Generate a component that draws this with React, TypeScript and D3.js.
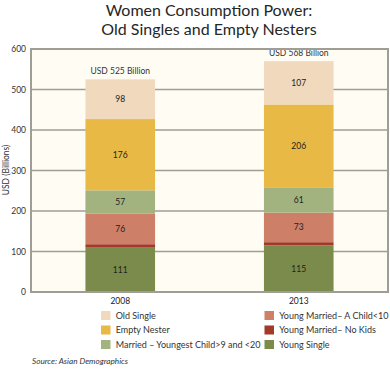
import React from "react";
import * as d3 from "d3";

const years = ["2008", "2013"];
const seriesNames = [
  "Young Single",
  "Young Married– No Kids",
  "Young Married– A Child<10",
  "Married– Youngest Child>9 and <20",
  "Empty Nester",
  "Old Single",
];
const youngSingle = [111, 115];
const youngMarriedNoKids = [7, 8];
const youngMarriedChild = [76, 73];
const marriedYoungest = [57, 61];
const emptyNester = [176, 206];
const oldSingle = [98, 107];
const totalLabels = ["USD 525 Billion", "USD 568 Billion"];
const yTicks = [0, 100, 200, 300, 400, 500, 600];
const colors = ["#7A8B4B", "#A2392B", "#CE7F67", "#A3B380", "#E8BA45", "#F0D9BC"];
const showLabel = [true, false, true, true, true, true];
const legendOrder = [
  { name: "Old Single", idx: 5 },
  { name: "Young Married– A Child<10", idx: 2 },
  { name: "Empty Nester", idx: 4 },
  { name: "Young Married– No Kids", idx: 1 },
  { name: "Married – Youngest Child>9 and <20", idx: 3 },
  { name: "Young Single", idx: 0 },
];

const W = 390, H = 370;
const left = 31, right = 388, top = 49, bottom = 292;
const font = "Lato, 'Open Sans', sans-serif";

export default function App() {
  const seriesData = [youngSingle, youngMarriedNoKids, youngMarriedChild, marriedYoungest, emptyNester, oldSingle];
  const rows = years.map((y, i) => {
    const r: any = { year: y };
    seriesNames.forEach((n, k) => (r[n] = seriesData[k][i]));
    return r;
  });
  const stacked = d3.stack().keys(seriesNames)(rows);
  const x = d3.scaleBand().domain(years).range([left, right]).paddingInner(0.61).paddingOuter(0.305);
  const y = d3.scaleLinear().domain([0, 600]).range([bottom, top]);

  return (
    <svg width={W} height={H} style={{ position: "absolute", left: 0, top: 0, background: "#fff" }} fontFamily={font}>
      <text x={209} y={16} textAnchor="middle" fontSize={16} fill="#262626">Women Consumption Power:</text>
      <text x={209} y={34.5} textAnchor="middle" fontSize={16} fill="#262626">Old Singles and Empty Nesters</text>
      <rect x={left} y={top} width={right - left} height={bottom - top} fill="#FFFDF3" />
      {yTicks.map((t) => (
        <g key={t}>
          <line x1={left} x2={right} y1={y(t)} y2={y(t)} stroke="#A09C96" strokeWidth={1.5} />
          <text x={26} y={y(t) + 3} textAnchor="end" fontSize={8.5} fill="#333">{t}</text>
        </g>
      ))}
      {stacked.map((s, k) => (
        <g key={k}>
          {s.map((d, i) => (
            <g key={i}>
              <rect x={x(years[i])} y={y(d[1])} width={x.bandwidth()} height={y(d[0]) - y(d[1])} fill={colors[k]} />
              {showLabel[k] && (
                <text x={(x(years[i]) as number) + x.bandwidth() / 2} y={(y(d[0]) + y(d[1])) / 2 + 3} textAnchor="middle" fontSize={8.5} fill="#222">
                  {seriesData[k][i]}
                </text>
              )}
            </g>
          ))}
        </g>
      ))}
      {years.map((yr, i) => {
        const tot = d3.sum(seriesData, (s) => s[i]);
        return (
          <text key={yr} x={(x(yr) as number) + x.bandwidth() / 2} y={y(tot) - 5} textAnchor="middle" fontSize={8.5} fill="#333">
            {totalLabels[i]}
          </text>
        );
      })}
      <rect x={left} y={top} width={right - left} height={bottom - top} fill="none" stroke="#A09C96" strokeWidth={2} />
      {years.map((yr) => (
        <text key={yr} x={(x(yr) as number) + x.bandwidth() / 2} y={304} textAnchor="middle" fontSize={8.5} fill="#222">{yr}</text>
      ))}
      <text transform={`translate(9,170) rotate(-90)`} textAnchor="middle" fontSize={8.5} fill="#333">USD (Billions)</text>
      {legendOrder.map((l, j) => {
        const col = j % 2, row = Math.floor(j / 2);
        const lx = col === 0 ? 101 : 264.5;
        const ly = 311 + row * 14.5;
        return (
          <g key={l.name}>
            <rect x={lx} y={ly} width={9.5} height={9} fill={colors[l.idx]} />
            <text x={lx + 14.7} y={ly + 7.8} fontSize={9} fill="#333">{l.name}</text>
          </g>
        );
      })}
      <text x={32} y={364} fontSize={8.2} fontStyle="italic" fill="#333">Source: Asian Demographics</text>
    </svg>
  );
}
